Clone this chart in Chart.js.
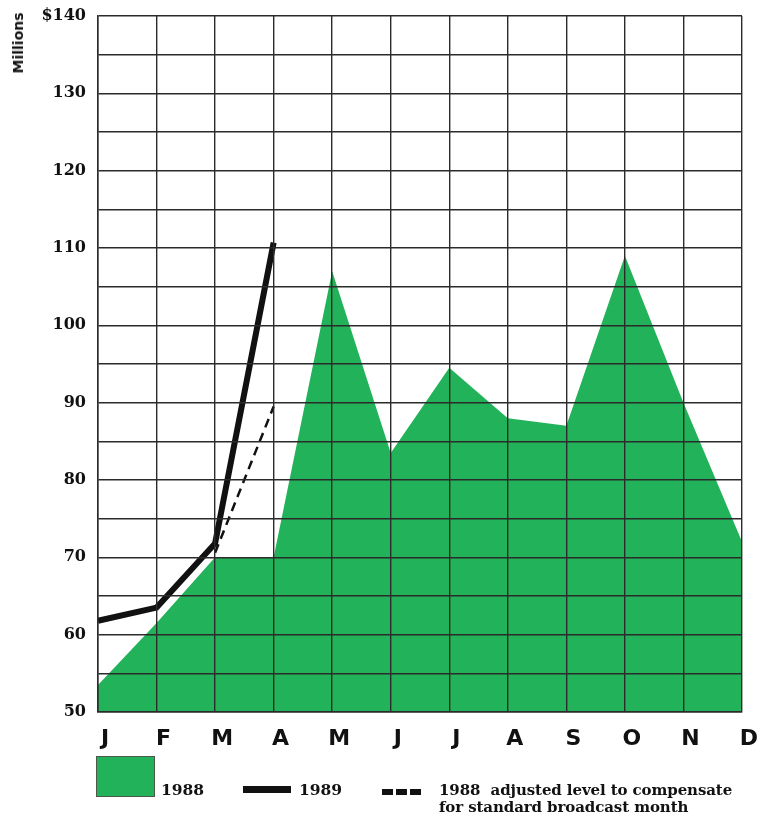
<!DOCTYPE html>
<html>
<head>
<meta charset="utf-8">
<script src="https://cdn.jsdelivr.net/npm/chart.js@4"></script>
<style>
  html, body { margin: 0; padding: 0; background: #fff; }
  #wrap { position: relative; width: 769px; height: 817px; }
  #chart { position: absolute; left: 0; top: 0; }
  .serif { font-family: "DejaVu Serif", serif; font-weight: bold; color: #111; position: absolute; white-space: nowrap; }
  #millions { position: absolute; left: 18px; top: 43px; transform: translate(-50%, -50%) rotate(-90deg);
    font-family: "DejaVu Sans", sans-serif; font-weight: bold; font-size: 14px; color: #111; }
</style>
</head>
<body>
<div id="wrap">
  <canvas id="chart" width="769" height="817"></canvas>
  <div id="millions">Millions</div>

  <div style="position:absolute;left:96px;top:756px;width:57px;height:39px;background:#22b35a;border:1px solid #4a5a4a;"></div>
  <div class="serif" style="left:161px;top:780px;font-size:15.5px;">1988</div>

  <div style="position:absolute;left:243px;top:786px;width:48px;height:7px;background:#111;"></div>
  <div class="serif" style="left:299px;top:780px;font-size:15.5px;">1989</div>

  <div style="position:absolute;left:382px;top:789px;width:11px;height:6px;background:#111;"></div>
  <div style="position:absolute;left:396px;top:789px;width:11px;height:6px;background:#111;"></div>
  <div style="position:absolute;left:410px;top:789px;width:11px;height:6px;background:#111;"></div>
  <div class="serif" style="left:439px;top:782px;font-size:15px;line-height:17px;letter-spacing:-0.1px;">1988&nbsp; adjusted level to compensate<br>for standard broadcast month</div>
</div>

<script>
// === SALES BY MONTH, $ MILLIONS ===

const months = ['J', 'F', 'M', 'A', 'M', 'J', 'J', 'A', 'S', 'O', 'N', 'D'];
const sales1988 = [53.5, 61.5, 70, 70, 107, 83.5, 94.5, 88, 87, 109, 90, 72];
const sales1989 = [61.8, 63.5, 71.8, 110.7, null, null, null, null, null, null, null, null];
const adjusted1988 = [null, null, 70.6, 89.5, null, null, null, null, null, null, null, null];

const GREEN = '#22b35a';
const GRID = '#2b2b2b';

const ctx = document.getElementById('chart').getContext('2d');
new Chart(ctx, {
    type: 'line',
    data: {
        labels: months,
        datasets: [
            { label: '1989', data: sales1989, borderColor: '#111', borderWidth: 6, pointRadius: 0, tension: 0, fill: false, borderJoinStyle: 'miter' },
            { label: '1988 adjusted', data: adjusted1988, borderColor: '#111', borderWidth: 2.5, borderDash: [9, 6], pointRadius: 0, tension: 0, fill: false },
            { label: '1988', data: sales1988, borderColor: GREEN, borderWidth: 0, backgroundColor: GREEN, pointRadius: 0, tension: 0, fill: 'start' }
        ]
    },
    options: {
        responsive: false, animation: false,
        layout: { padding: { left: 0, top: 16, right: 27, bottom: 60 } },
        plugins: { legend: { display: false }, tooltip: { enabled: false } },
        scales: {
            x: {
                offset: false,
                grid: { z: 1, color: GRID, lineWidth: 1.4, drawTicks: false, offset: false },
                border: { z: 1, color: GRID, width: 1.5 },
                ticks: { color: '#111', padding: 14, labelOffset: 7, autoSkip: false, maxRotation: 0,
                    font: { family: '"DejaVu Sans", sans-serif', weight: 'bold', size: 22 } },
                afterFit: s => { s.height = 45; }
            },
            y: {
                min: 50, max: 140,
                grid: { z: 1, color: GRID, lineWidth: 1.4, drawTicks: false },
                border: { z: 1, color: GRID, width: 1.5 },
                ticks: { stepSize: 5, color: '#111', padding: 12,
                    font: { family: '"DejaVu Serif", serif', weight: 'bold', size: 16, lineHeight: 0.5 },
                    callback: v => v % 10 !== 0 ? '' : (v === 140 ? '$140' : String(v)) },
                afterFit: s => { s.width = 98; }
            }
        }
    }
});
</script>
</body>
</html>
